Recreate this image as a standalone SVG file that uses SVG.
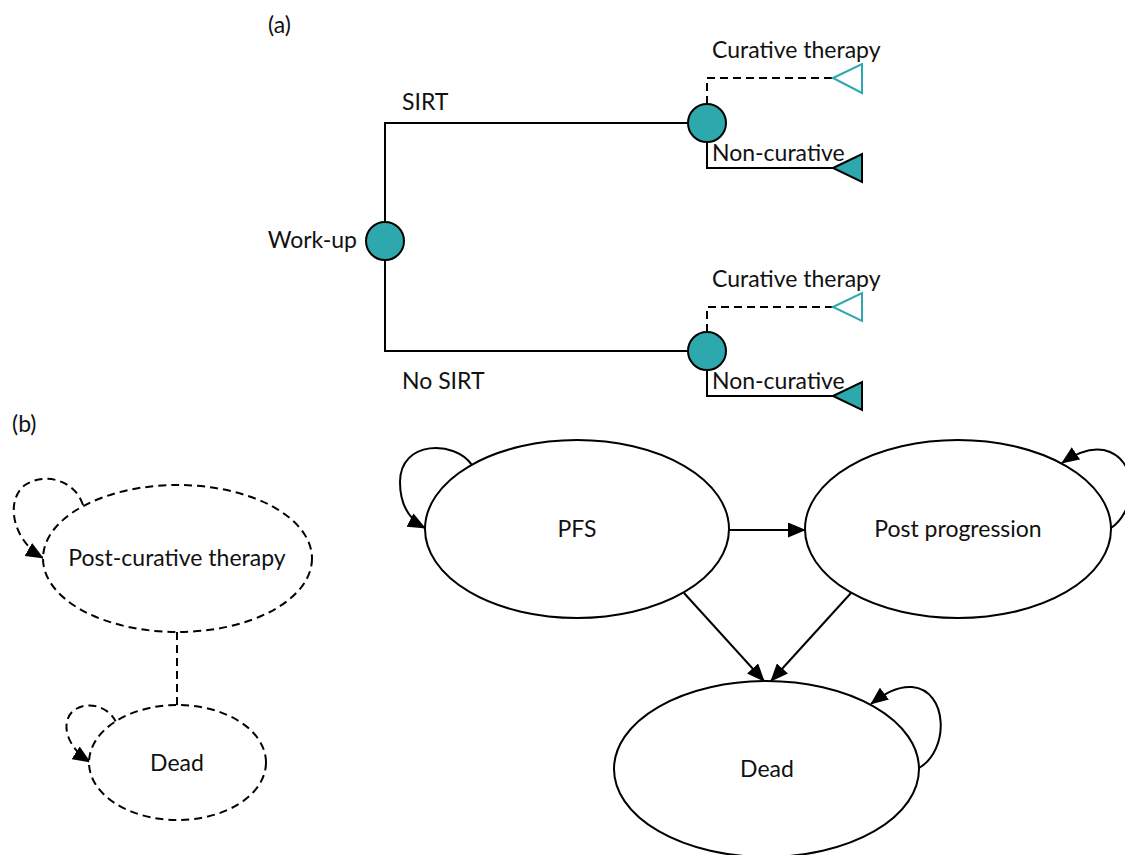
<svg xmlns="http://www.w3.org/2000/svg" width="1125" height="855" viewBox="0 0 1125 855">
<style>
text{font-family:Lato,"Open Sans","Liberation Sans",sans-serif;fill:#111;font-size:23px}
.ln{fill:none;stroke:#000;stroke-width:2}
.dash{fill:none;stroke:#000;stroke-width:2;stroke-dasharray:8,5}
.chance{fill:#2DA8AD;stroke:#000;stroke-width:2}
.term{fill:#2DA8AD;stroke:#000;stroke-width:2}
.termo{fill:#fff;stroke:#2DA8AD;stroke-width:2}
.st{fill:#fff;stroke:#000;stroke-width:2}
.std{fill:#fff;stroke:#000;stroke-width:2;stroke-dasharray:8,5}
.arr{fill:none;stroke:#000;stroke-width:2;marker-end:url(#ah)}
.arrd{fill:none;stroke:#000;stroke-width:2;stroke-dasharray:8,5;marker-end:url(#ah)}
</style>
<defs>
<marker id="ah" markerWidth="18" markerHeight="15" refX="17" refY="7.5" orient="auto" markerUnits="userSpaceOnUse">
<path d="M0,0 L18,7.5 L0,15 Z" fill="#000"/>
</marker>
</defs>
<rect width="1125" height="855" fill="#fff"/>
<text x="268" y="33" font-size="22">(a)</text>
<text x="12" y="432" font-size="22">(b)</text>
<g id="connectors">
<path class="ln" d="M385,222 V123 H688"/>
<path class="ln" d="M385,260 V351 H688"/>
<path class="dash" d="M707,104 V78 H833"/>
<path class="ln" d="M707,142 V168 H833"/>
<path class="dash" d="M707,332 V307 H833"/>
<path class="ln" d="M707,370 V396 H833"/>
<path class="arr" d="M729,530 H805"/>
<path class="arr" d="M684,593 L764,681"/>
<path class="arr" d="M851,593 L771,681"/>
<path class="arr" d="M472,465 C455,440 400,440 400,482 C400,505 410,520 425,528"/>
<path class="arr" d="M1111,528 C1135,512 1140,465 1110,452 C1095,446 1078,452 1062,463"/>
<path class="arr" d="M919,768 C950,750 948,690 912,687 C897,686 884,694 871,704"/>
<path class="dash" d="M177,632 V705"/>
<path class="arrd" d="M83,505 C75,480 45,472 25,485 C5,500 12,540 43,558"/>
<path class="arrd" d="M116,722 C108,705 85,700 72,712 C60,725 68,748 90,762"/>
</g>
<g id="workup">
<circle class="chance" cx="385" cy="241" r="19"/>
<text x="357" y="248" text-anchor="end">Work-up</text>
</g>
<g id="sirt-label"><text x="402" y="110">SIRT</text></g>
<g id="nosirt-label"><text x="402" y="389">No SIRT</text></g>
<g id="sirt-node"><circle class="chance" cx="707" cy="123" r="19"/></g>
<g id="nosirt-node"><circle class="chance" cx="707" cy="351" r="19"/></g>
<g id="sirt-curative">
<polygon class="termo" points="833,78 862,64 862,93"/>
<text x="712" y="58" font-size="23.5">Curative therapy</text>
</g>
<g id="sirt-noncurative">
<polygon class="term" points="833,168 862,154 862,182"/>
<text x="712" y="161" font-size="23.5">Non-curative</text>
</g>
<g id="nosirt-curative">
<polygon class="termo" points="833,307 862,293 862,321"/>
<text x="712" y="287" font-size="23.5">Curative therapy</text>
</g>
<g id="nosirt-noncurative">
<polygon class="term" points="833,396 862,382 862,410"/>
<text x="712" y="389" font-size="23.5">Non-curative</text>
</g>
<g id="post-curative">
<ellipse class="std" cx="177.5" cy="558.5" rx="134.5" ry="73.5"/>
<text x="177" y="566" text-anchor="middle">Post-curative therapy</text>
</g>
<g id="dead-small">
<ellipse class="std" cx="177.5" cy="762.5" rx="88.5" ry="57.5"/>
<text x="177" y="771" text-anchor="middle">Dead</text>
</g>
<g id="pfs">
<ellipse class="st" cx="577" cy="529" rx="152" ry="89"/>
<text x="577" y="537" text-anchor="middle">PFS</text>
</g>
<g id="postprog">
<ellipse class="st" cx="958" cy="529" rx="153" ry="89"/>
<text x="958" y="537" text-anchor="middle">Post progression</text>
</g>
<g id="dead">
<ellipse class="st" cx="766.5" cy="769" rx="152.5" ry="88"/>
<text x="767" y="777" text-anchor="middle">Dead</text>
</g>
</svg>
